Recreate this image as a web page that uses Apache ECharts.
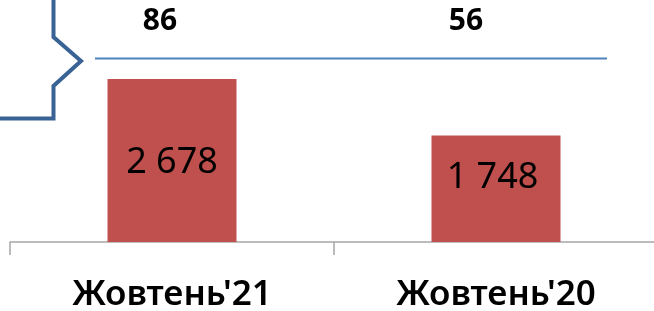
<!DOCTYPE html>
<html>
<head>
<meta charset="utf-8">
<script src="https://cdn.jsdelivr.net/npm/echarts@6/dist/echarts.min.js"></script>
<style>
html,body{margin:0;padding:0;background:#fff;}
#c{width:654px;height:311px;}
</style>
</head>
<body>
<div id="c"></div>
<script>
var categories = ["Жовтень'21", "Жовтень'20"];
var barValues = [2678, 1748];
var barLabels = ["2 678", "1 748"];
var topValues = [86, 56];

var chart = echarts.init(document.getElementById('c'), null, {renderer: 'canvas'});
var FONT = '"Noto Sans", "Open Sans", sans-serif';

var option = {
  animation: false,
  backgroundColor: '#ffffff',
  grid: {left: 10, right: -4, top: 0, bottom: 69, containLabel: false, outerBoundsMode: 'none'},
  xAxis: {
    type: 'category',
    data: categories,
    boundaryGap: true,
    axisLine: {show: true, lineStyle: {color: '#a6a6a6', width: 1.5}},
    axisTick: {show: true, length: 13, lineStyle: {color: '#a6a6a6', width: 1.5}},
    axisLabel: {margin: 36, fontSize: 35, fontWeight: 600, color: '#000', fontFamily: FONT}
  },
  yAxis: {
    type: 'value',
    min: 0,
    max: 3976,
    show: false,
    splitLine: {show: false}
  },
  series: [{
    type: 'bar',
    barWidth: 129,
    itemStyle: {color: '#c0504d'},
    data: barValues.map(function (v, i) {
      return {
        value: v,
        label: {
          show: true,
          position: 'inside',
          offset: i === 0 ? [0, 2.5] : [-3.5, -11.5],
          formatter: barLabels[i],
          fontSize: 36,
          color: '#000',
          fontFamily: FONT
        }
      };
    })
  }]
};
chart.setOption(option);

var topOffsets = [-12, -30];
var graphics = [];
topValues.forEach(function (v, i) {
  var px = chart.convertToPixel({xAxisIndex: 0}, i);
  graphics.push({
    type: 'text',
    x: px + topOffsets[i],
    y: 21.5,
    style: {
      text: String(v),
      fontSize: 30,
      fontWeight: 'bold',
      fontFamily: FONT,
      fill: '#000',
      align: 'center',
      verticalAlign: 'middle'
    }
  });
});
graphics.push({
  type: 'line',
  shape: {x1: 95, y1: 58.5, x2: 607, y2: 58.5},
  style: {stroke: '#4f81bd', lineWidth: 2}
});
graphics.push({
  type: 'polyline',
  shape: {points: [[53.5, 0], [53.5, 37], [81, 61], [53.5, 86], [53.5, 118.5], [0, 118.5]]},
  style: {stroke: '#3a6395', lineWidth: 4, fill: null, lineJoin: 'miter'}
});
chart.setOption({graphic: graphics});
</script>
</body>
</html>
